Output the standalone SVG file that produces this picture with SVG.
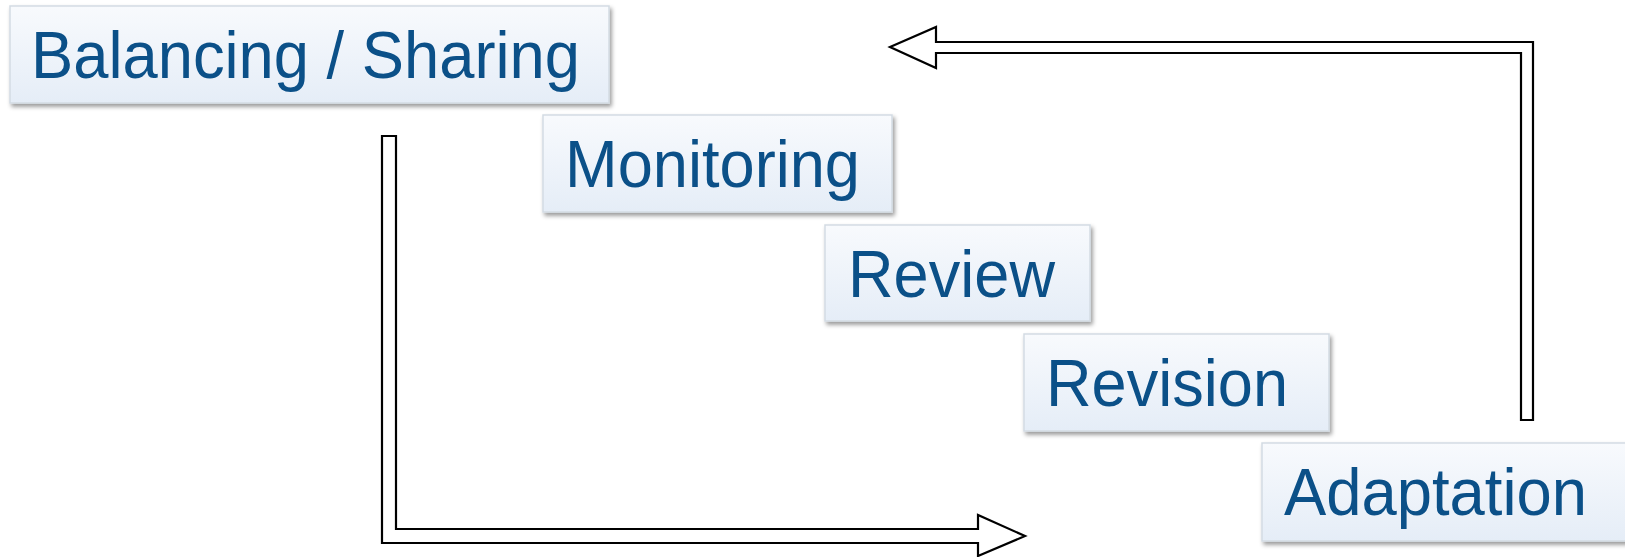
<svg xmlns="http://www.w3.org/2000/svg" width="1625" height="557" viewBox="0 0 1625 557">
  <defs>
    <linearGradient id="boxFill" x1="0" y1="0" x2="0" y2="1">
      <stop offset="0" stop-color="#f8fafd"/>
      <stop offset="1" stop-color="#e5edf7"/>
    </linearGradient>
    <filter id="shadow" x="-5%" y="-10%" width="115%" height="130%">
      <feDropShadow dx="2" dy="3" stdDeviation="2" flood-color="#000000" flood-opacity="0.4"/>
    </filter>
  </defs>
  <style>
    .box { fill: url(#boxFill); stroke: #d3dbe3; stroke-width: 1.5; filter: url(#shadow); }
    .label { font-family: "Liberation Sans", Arial, sans-serif; font-size: 66px; fill: #0b5088; }
    .arrow { fill: #ffffff; stroke: #000000; stroke-width: 2.2; stroke-linejoin: miter; }
  </style>
  <rect width="1625" height="557" fill="#ffffff"/>
  <g id="connectors">
    <polygon class="arrow" points="382,136 396,136 396,529 978,529 978,515 1025,536 978,556 978,543 382,543"/>
    <polygon class="arrow" points="1533,42 1533,420 1521,420 1521,53 936,53 936,68 890,47 936,27 936,42"/>
  </g>
  <g id="node-balancing">
    <rect class="box" x="10" y="6" width="599" height="97"/>
    <text class="label" x="31" y="78" textLength="549" lengthAdjust="spacingAndGlyphs">Balancing / Sharing</text>
  </g>
  <g id="node-monitoring">
    <rect class="box" x="543" y="115" width="349" height="97"/>
    <text class="label" x="565" y="187" textLength="295" lengthAdjust="spacingAndGlyphs">Monitoring</text>
  </g>
  <g id="node-review">
    <rect class="box" x="825" y="225" width="265" height="96"/>
    <text class="label" x="848" y="297" textLength="207" lengthAdjust="spacingAndGlyphs">Review</text>
  </g>
  <g id="node-revision">
    <rect class="box" x="1024" y="334" width="305" height="97"/>
    <text class="label" x="1046" y="406" textLength="242" lengthAdjust="spacingAndGlyphs">Revision</text>
  </g>
  <g id="node-adaptation">
    <rect class="box" x="1262" y="443" width="380" height="98"/>
    <text class="label" x="1284" y="515" textLength="303" lengthAdjust="spacingAndGlyphs">Adaptation</text>
  </g>
</svg>
